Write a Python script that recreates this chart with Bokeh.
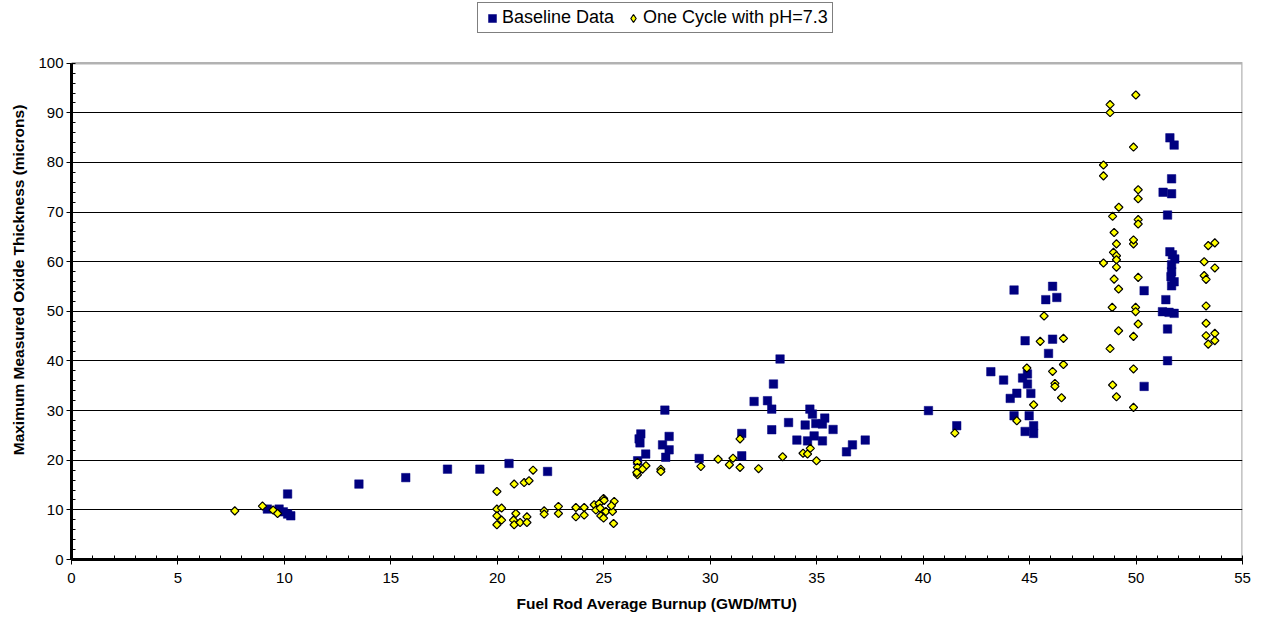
import numpy as np
from bokeh.plotting import figure
from bokeh.models import (Legend, LegendItem, FixedTicker, Range1d,
                          ColumnDataSource, BoxAnnotation)
from bokeh.embed import file_html
from bokeh.resources import INLINE

# ---- data ----
baseline_burnup = [9.2, 9.75, 9.95, 10.15, 10.3, 10.15, 13.5, 15.7, 17.66, 19.18, 20.55, 22.36,
                   26.59, 26.66, 26.7, 26.74, 26.97, 27.76, 27.87, 27.91, 28.07, 28.07, 29.48,
                   31.48, 31.48, 32.06, 32.69, 32.89, 32.97, 33.28, 32.89, 33.68, 34.07, 34.46,
                   34.68, 34.8, 34.57, 34.88, 34.96, 35.27, 35.38, 35.27, 35.77, 36.4, 36.68, 37.28,
                   40.25, 41.58, 43.18, 43.78, 44.27, 44.09, 44.4, 44.27, 44.67, 44.79, 44.9, 44.9,
                   45.06, 44.98, 44.79, 45.19, 45.19, 45.76, 46.08, 46.28, 46.08, 45.89,
                   50.38, 50.38, 51.4, 51.24, 51.55, 51.79, 51.48, 51.48, 51.59, 51.79, 51.67,
                   51.27, 51.67, 51.48, 51.59, 51.71, 51.82, 51.67, 51.67, 51.64, 51.79, 51.67]
baseline_oxide = [10.16, 10.16, 9.6, 9.15, 8.8, 13.2, 15.2, 16.5, 18.2, 18.2, 19.35, 17.74,
                  19.9, 24.3, 23.5, 25.3, 21.25, 23.1, 30.1, 20.6, 24.8, 22.1, 20.36,
                  25.4, 20.9, 31.85, 32.0, 30.3, 35.36, 40.4, 26.15, 27.6, 24.07, 27.1,
                  30.3, 29.3, 23.9, 24.9, 27.4, 27.3, 28.5, 23.9, 26.2, 21.7, 23.1, 24.07,
                  30.0, 26.96, 37.84, 36.16, 54.3, 32.46, 33.5, 28.97, 36.57, 44.09, 37.4, 35.36,
                  33.47, 28.97, 25.8, 26.96, 25.4, 52.36, 55.04, 52.8, 44.4, 41.53,
                  54.17, 34.88, 52.36, 49.94, 49.8, 49.6, 46.45, 40.06, 84.96, 83.5, 76.7,
                  74.0, 73.7, 69.4, 62.0, 61.4, 60.56, 59.4, 58.0, 57.0, 55.96, 55.15]

ph73_burnup = [7.67, 8.97, 9.47, 9.68,
               19.98, 19.98, 20.2, 19.98, 20.2, 19.98,
               20.79, 21.26, 21.49, 21.68,
               20.87, 20.76, 20.79, 21.07, 21.39, 21.39,
               22.2, 22.2, 22.87, 22.87,
               23.69, 24.08, 23.69, 24.08,
               24.55, 24.78, 24.99, 25.02, 24.63, 24.83, 25.1, 24.86, 24.99, 25.41, 25.49, 25.36, 25.46,
               26.58, 26.58, 26.58, 26.55, 26.98, 26.82, 27.68, 27.68,
               29.56, 30.37, 30.9, 31.07, 31.4, 31.4, 32.27, 33.4, 34.36, 34.57, 34.7, 34.99,
               41.49, 44.4, 44.87, 45.19, 45.68, 45.5, 46.08, 46.19, 46.19, 46.59, 46.59, 46.5,
               48.47, 49.08, 48.94, 49.08, 49.08, 49.08, 48.97, 49.18, 48.88, 49.18, 48.78, 48.9, 49.08,
               49.88, 49.88, 50.1, 49.98, 49.98, 50.1, 49.88, 49.88, 49.88,
               48.78, 48.78, 49.99, 49.88, 48.47, 48.47, 50.1, 50.1, 49.19, 48.9, 50.1, 50.1, 48.97,
               53.39, 53.7, 53.2, 53.7, 53.2, 53.29, 53.29, 53.29, 53.29, 53.7, 53.7, 53.39]
ph73_oxide = [9.8, 10.77, 9.96, 9.27,
              13.7, 10.16, 10.36, 8.8, 7.94, 7.0,
              15.2, 15.5, 15.87, 18.0,
              9.27, 7.94, 7.0, 7.46, 8.6, 7.46,
              9.8, 9.15, 10.69, 9.27,
              10.48, 10.48, 8.6, 8.95,
              11.03, 11.29, 12.3, 11.9, 9.96, 10.36, 9.68, 8.8, 8.35, 9.68, 11.7, 10.83, 7.26,
              19.56, 18.55, 17.08, 17.54, 18.9, 18.2, 18.2, 17.74,
              18.75, 20.2, 19.1, 20.4, 24.3, 18.55, 18.3, 20.7, 21.4, 21.25, 22.4, 19.9,
              25.48, 27.96, 38.59, 31.19, 49.07, 43.95, 37.9, 35.48, 34.88, 44.56, 39.3, 32.6,
              59.75, 63.6, 61.9, 61.2, 60.4, 58.9, 56.5, 54.5, 50.8, 46.1, 42.5, 35.16, 32.8,
              63.6, 64.4, 56.85, 50.8, 49.94, 47.46, 44.96, 38.4, 30.65,
              91.67, 90.06, 93.6, 83.1, 79.5, 77.3, 74.5, 72.7, 70.97, 69.15, 68.5, 67.6, 65.9,
              63.25, 63.8, 60.0, 58.75, 57.2, 56.45, 51.1, 47.6, 45.1, 45.56, 44.1, 43.4]

series_labels = ["Baseline Data", "One Cycle with pH=7.3"]
x_title = "Fuel Rod Average Burnup (GWD/MTU)"
y_title = "Maximum Measured Oxide Thickness (microns)"
x_ticks = [0, 5, 10, 15, 20, 25, 30, 35, 40, 45, 50, 55]
y_ticks = [0, 10, 20, 30, 40, 50, 60, 70, 80, 90, 100]
X_MAX, Y_MAX = 55, 100

FONT = "Liberation Sans"

# frame reaches the top of the page so the legend (drawn in its upper strip) is not clipped
p = figure(width=1261, height=619, output_backend="svg", toolbar_location=None,
           x_range=Range1d(0, X_MAX), y_range=Range1d(0, 112.64),
           min_border_left=71, min_border_right=19, min_border_top=0, min_border_bottom=60,
           background_fill_color="white", border_fill_color="white")
p.outline_line_color = None

p.xaxis.ticker = FixedTicker(ticks=x_ticks, minor_ticks=list(range(0, 56)))
p.yaxis.ticker = FixedTicker(ticks=y_ticks, minor_ticks=list(range(0, 101, 2)))
p.ygrid.ticker = FixedTicker(ticks=y_ticks[1:-1])
p.xgrid.visible = False
p.ygrid.grid_line_color = "black"
p.ygrid.grid_line_width = 1
p.yaxis.bounds = (0, Y_MAX)
p.xaxis.bounds = (0, X_MAX)

for ax in (p.xaxis[0], p.yaxis[0]):
    ax.axis_line_color = "black"
    ax.axis_line_width = 3
    ax.major_tick_line_color = "black"
    ax.minor_tick_line_color = "black"
    ax.major_tick_line_width = 1
    ax.minor_tick_line_width = 1
    ax.major_tick_out = 5
    ax.major_tick_in = 0
    ax.minor_tick_in = 4
    ax.minor_tick_out = 0
    ax.major_label_text_font = FONT
    ax.major_label_text_font_size = "15px"
    ax.major_label_text_color = "black"
    ax.axis_label_text_font = FONT
    ax.axis_label_text_font_size = "15.5px"
    ax.axis_label_text_font_style = "bold"
    ax.axis_label_text_color = "black"

p.xaxis.axis_label = x_title
p.yaxis.axis_label = y_title
p.xaxis.major_label_standoff = 8
p.yaxis.major_label_standoff = 3
p.xaxis.axis_label_standoff = 9
p.yaxis.axis_label_standoff = 8

# plot-area border (top and right edges of the box)
p.add_layout(BoxAnnotation(left=0, right=X_MAX, bottom=0, top=Y_MAX,
                           fill_color=None, fill_alpha=0,
                           line_color="black", line_width=2.5, level="overlay"))

src_b = ColumnDataSource(dict(x=baseline_burnup, y=baseline_oxide))
src_p = ColumnDataSource(dict(x=ph73_burnup, y=ph73_oxide))

r_b = p.scatter("x", "y", source=src_b, marker="square", size=8.5,
                fill_color="#000080", line_color="#000080", line_width=0.5)

# legend swatch for the pH=7.3 series: legend drawing ignores marker rotation, so a
# diamond-marker proxy (one of the series' own points, hidden beneath the real marker)
src_proxy = ColumnDataSource(dict(x=ph73_burnup[:1], y=ph73_oxide[:1]))
leg_p = p.scatter("x", "y", source=src_proxy, marker="diamond", size=3,
                  fill_color="#FFFF00", line_color="black", line_width=1.2)

r_p = p.scatter("x", "y", source=src_p, marker="square", size=5.8, angle=np.pi / 4,
                fill_color="#FFFF00", line_color="black", line_width=1.2)

legend = Legend(items=[LegendItem(label=series_labels[0], renderers=[r_b]),
                       LegendItem(label=series_labels[1], renderers=[leg_p])],
                orientation="horizontal", location=(406, 526),
                label_text_font=FONT, label_text_font_size="18px", label_text_color="black",
                glyph_width=20, glyph_height=20, label_standoff=0, spacing=9,
                padding=4, margin=0, label_height=20,
                border_line_color="black", border_line_width=1,
                background_fill_color="white", background_fill_alpha=1.0)
p.add_layout(legend, "center")

open("out.html", "w").write(file_html(p, INLINE))
